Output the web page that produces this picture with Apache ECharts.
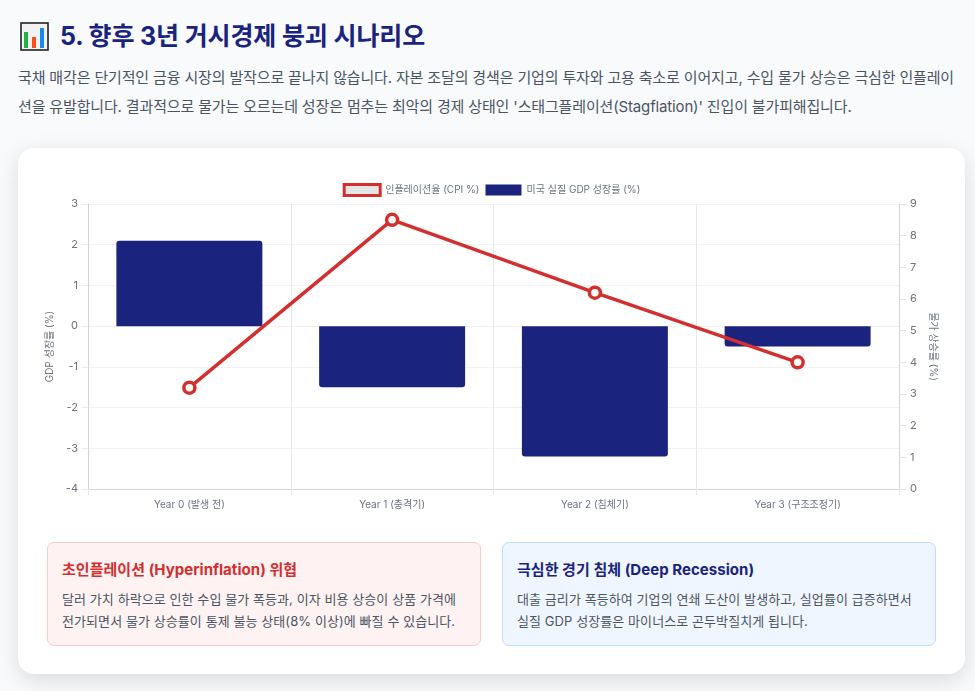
<!DOCTYPE html>
<html lang="ko"><head><meta charset="utf-8">
<script src="https://cdn.jsdelivr.net/npm/echarts@6/dist/echarts.min.js"></script>
<style>
*{box-sizing:border-box}
html,body{margin:0;padding:0;width:975px;height:691px;overflow:hidden;background:#f8fafc;font-family:Inter,"Noto Sans CJK KR",sans-serif}
.abs{position:absolute}
h2{position:absolute;left:60px;top:18px;margin:0;font-size:25px;line-height:36px;font-weight:700;color:#1a237e;white-space:nowrap;letter-spacing:-.13px}
p.lead{position:absolute;left:18px;top:63px;margin:0;width:950px;font-size:15px;line-height:29px;color:#4b5563;white-space:nowrap;letter-spacing:-.15px}
.card{position:absolute;left:18px;top:148px;width:947px;height:526px;background:#fff;border-radius:16px;box-shadow:0 6px 22px rgba(0,0,0,.13)}
#chart{position:absolute;left:18px;top:148px;width:947px;height:385px}
.box{position:absolute;top:542px;height:104px;width:434px;border-radius:7px;padding:16px 14px}
.box.r{left:47px;background:#fef2f2;border:1px solid #fecaca}
.box.b{left:502px;background:#eff6ff;border:1px solid #bfdbfe}
.box h4{margin:0 0 7px;font-size:15px;line-height:22px;font-weight:700;letter-spacing:.04px}
.box.r h4{color:#d32f2f}.box.b h4{color:#1a237e}
.box div{font-size:13px;line-height:22px;color:#4b5563;white-space:nowrap;letter-spacing:.08px}
</style></head><body>
<svg class="abs" style="left:20px;top:22px" width="29" height="29" viewBox="0 0 29 29"><rect x="1" y="1" width="27" height="27" fill="#f2f2f2" stroke="#222" stroke-width="1.6"/><rect x="4" y="10" width="4" height="16" fill="#22b14c"/><rect x="12" y="15" width="4" height="11" fill="#f4511e"/><rect x="20" y="6" width="4" height="20" fill="#1e88e5"/></svg>
<h2>5. 향후 3년 거시경제 붕괴 시나리오</h2>
<p class="lead">국채 매각은 단기적인 금융 시장의 발작으로 끝나지 않습니다. 자본 조달의 경색은 기업의 투자와 고용 축소로 이어지고, 수입 물가 상승은 극심한 인플레이<br>션을 유발합니다. 결과적으로 물가는 오르는데 성장은 멈추는 최악의 경제 상태인 '스태그플레이션(Stagflation)' 진입이 불가피해집니다.</p>
<div class="card"></div>
<div id="chart"></div>
<div class="box r"><h4>초인플레이션 (Hyperinflation) 위협</h4><div>달러 가치 하락으로 인한 수입 물가 폭등과, 이자 비용 상승이 상품 가격에<br>전가되면서 물가 상승률이 통제 불능 상태(8% 이상)에 빠질 수 있습니다.</div></div>
<div class="box b"><h4>극심한 경기 침체 (Deep Recession)</h4><div>대출 금리가 폭등하여 기업의 연쇄 도산이 발생하고, 실업률이 급증하면서<br>실질 GDP 성장률은 마이너스로 곤두박질치게 됩니다.</div></div>
<script>
const categories=['Year 0 (발생 전)','Year 1 (충격기)','Year 2 (침체기)','Year 3 (구조조정기)'];
const cpiName='인플레이션율 (CPI %)';
const gdpName='미국 실질 GDP 성장률 (%)';
const cpiValues=[3.2,8.5,6.2,4.0];
const gdpValues=[2.1,-1.5,-3.2,-0.5];
const font='Inter,"Noto Sans CJK KR",sans-serif';
const txt='#6b7280', grid='#e8e8e8', axisC='#d4d4d4';
const chart=echarts.init(document.getElementById('chart'),null,{renderer:'canvas'});
chart.setOption({
 animation:false,textStyle:{fontFamily:font},
 legend:{top:35,left:'center',itemGap:6,itemWidth:36,itemHeight:11,padding:[0,5,5,5],
  textStyle:{fontSize:10,color:txt,fontFamily:font},
  data:[
   {name:cpiName,icon:'rect',itemStyle:{color:'#e5e5e5',borderColor:'#d32f2f',borderWidth:3}},
   {name:gdpName,icon:'rect',itemStyle:{color:'#1a237e',borderWidth:0}}
  ]},
 grid:{left:70,right:66,top:56,height:285,containLabel:false},
 xAxis:{type:'category',data:categories,boundaryGap:true,
  axisLine:{onZero:false,lineStyle:{color:axisC,width:1}},
  axisTick:{show:true,alignWithLabel:false,length:6,lineStyle:{color:grid}},
  axisLabel:{color:txt,fontSize:10,fontFamily:font,margin:11},
  splitLine:{show:true,lineStyle:{color:grid}}},
 yAxis:[
  {type:'value',min:-4,max:3,interval:1,name:'GDP 성장률 (%)',nameLocation:'middle',nameGap:26,
   nameTextStyle:{color:txt,fontSize:10,fontFamily:font},
   axisLine:{show:true,onZero:false,lineStyle:{color:axisC}},axisTick:{show:true,length:7,lineStyle:{color:'#eeeeee'}},
   axisLabel:{color:txt,fontSize:11,fontFamily:font,margin:10},splitLine:{show:true,lineStyle:{color:'#f2f2f2'}}},
  {type:'value',min:0,max:9,interval:1,name:'물가 상승률 (%)',nameLocation:'middle',nameGap:22,nameRotate:-90,
   nameTextStyle:{color:txt,fontSize:10,fontFamily:font},position:'right',
   axisLine:{show:true,onZero:false,lineStyle:{color:axisC}},axisTick:{show:true,length:7,lineStyle:{color:'#e4e4e4'}},
   axisLabel:{color:txt,fontSize:11,fontFamily:font,margin:11},splitLine:{show:false}}
 ],
 series:[
  {name:gdpName,type:'bar',yAxisIndex:0,barWidth:'72%',z:2,
   data:gdpValues.map(v=>({value:v,itemStyle:{color:'#1a237e',borderRadius:v>=0?[3,3,0,0]:[0,0,3,3]}}))},
  {name:cpiName,type:'line',yAxisIndex:1,data:cpiValues,z:5,symbol:'circle',symbolSize:11,showSymbol:true,
   lineStyle:{color:'#d32f2f',width:3.5},itemStyle:{color:'#ffffff',borderColor:'#d32f2f',borderWidth:3.5}}
 ]
});
</script></body></html>
